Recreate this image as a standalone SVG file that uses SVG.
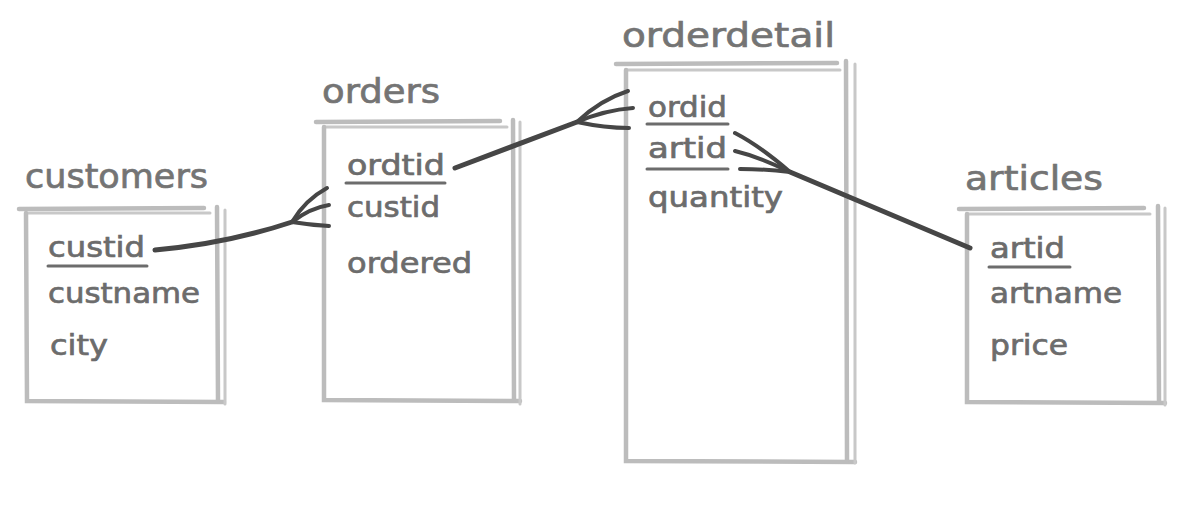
<svg xmlns="http://www.w3.org/2000/svg" width="1184" height="507" viewBox="0 0 1184 507">
<style>
.frame{stroke:#bcbcbc;stroke-width:4.5;stroke-linecap:round;fill:none}
.frame2{stroke:#c8c8c8;stroke-width:3;stroke-linecap:round;fill:none}
.title{font-family:"DejaVu Sans",sans-serif;font-size:34px;fill:#747474;stroke:#747474;stroke-width:0.7}
.field{font-family:"DejaVu Sans",sans-serif;font-size:28px;fill:#6c6c6c;stroke:#6c6c6c;stroke-width:0.7}
.ul{stroke:#6c6c6c;stroke-width:3;stroke-linecap:round;fill:none}
.conn{stroke:#464646;stroke-width:5;stroke-linecap:round;fill:none}
.prong{stroke:#464646;stroke-width:4;stroke-linecap:round;fill:none}
</style>
<rect width="1184" height="507" fill="#ffffff"/>

<g id="customers">
<text class="title" x="25" y="188" textLength="183" lengthAdjust="spacingAndGlyphs">customers</text>
<path class="frame" d="M19,209 L204,208"/>
<path class="frame2" d="M28,213 L210,213"/>
<path class="frame" d="M26,213 L27,401 L224,402"/>
<path class="frame" d="M217,207 L218,400"/>
<path class="frame2" d="M225,210 L225,404"/>
<text class="field" x="48" y="257" textLength="97" lengthAdjust="spacingAndGlyphs">custid</text>
<path class="ul" d="M48,266 L147,266"/>
<text class="field" x="48" y="303" textLength="152" lengthAdjust="spacingAndGlyphs">custname</text>
<text class="field" x="50" y="355" textLength="58" lengthAdjust="spacingAndGlyphs">city</text>
</g>

<g id="orders">
<text class="title" x="322" y="103" textLength="118" lengthAdjust="spacingAndGlyphs">orders</text>
<path class="frame" d="M316,122 L500,121"/>
<path class="frame2" d="M325,127 L507,127"/>
<path class="frame" d="M324,127 L324,400 L520,401"/>
<path class="frame" d="M513,120 L514,400"/>
<path class="frame2" d="M520,122 L520,404"/>
<text class="field" x="347" y="175" textLength="98" lengthAdjust="spacingAndGlyphs">ordtid</text>
<path class="ul" d="M346,183 L445,183"/>
<text class="field" x="347" y="217" textLength="93" lengthAdjust="spacingAndGlyphs">custid</text>
<text class="field" x="347" y="273" textLength="125" lengthAdjust="spacingAndGlyphs">ordered</text>
</g>

<g id="orderdetail">
<text class="title" x="622" y="47" textLength="213" lengthAdjust="spacingAndGlyphs">orderdetail</text>
<path class="frame" d="M616,64 L837,63"/>
<path class="frame2" d="M626,70 L840,70"/>
<path class="frame" d="M626,70 L626,461 L855,462"/>
<path class="frame" d="M846,61 L847,460"/>
<path class="frame2" d="M855,64 L855,463"/>
<text class="field" x="648" y="117" textLength="79" lengthAdjust="spacingAndGlyphs">ordid</text>
<path class="ul" d="M647,124 L728,124"/>
<text class="field" x="648" y="158" textLength="79" lengthAdjust="spacingAndGlyphs">artid</text>
<path class="ul" d="M647,169 L728,169"/>
<text class="field" x="648" y="207" textLength="135" lengthAdjust="spacingAndGlyphs">quantity</text>
</g>

<g id="articles">
<text class="title" x="965" y="190" textLength="138" lengthAdjust="spacingAndGlyphs">articles</text>
<path class="frame" d="M959,209 L1144,208"/>
<path class="frame2" d="M968,214 L1150,214"/>
<path class="frame" d="M967,214 L967,402 L1165,403"/>
<path class="frame" d="M1158,206 L1159,401"/>
<path class="frame2" d="M1165,208 L1165,405"/>
<text class="field" x="990" y="258" textLength="75" lengthAdjust="spacingAndGlyphs">artid</text>
<path class="ul" d="M989,267 L1070,267"/>
<text class="field" x="990" y="303" textLength="132" lengthAdjust="spacingAndGlyphs">artname</text>
<text class="field" x="990" y="355" textLength="78" lengthAdjust="spacingAndGlyphs">price</text>
</g>

<g id="connectors">
<path class="conn" d="M155,250 C200,246 250,236 292,222"/>
<path class="prong" d="M292,222 Q305,200 327,188"/>
<path class="prong" d="M292,222 Q310,208 329,205"/>
<path class="prong" d="M292,222 Q310,225 329,226"/>

<path class="conn" d="M455,168 L577,122"/>
<path class="prong" d="M577,122 Q600,100 628,91"/>
<path class="prong" d="M577,122 Q605,110 633,108"/>
<path class="prong" d="M577,122 Q605,128 629,128"/>

<path class="conn" d="M970,248 L790,172"/>
<path class="prong" d="M790,172 Q760,146 735,133"/>
<path class="prong" d="M790,172 Q760,157 735,151"/>
<path class="prong" d="M790,172 Q765,169 740,169"/>
</g>
</svg>
